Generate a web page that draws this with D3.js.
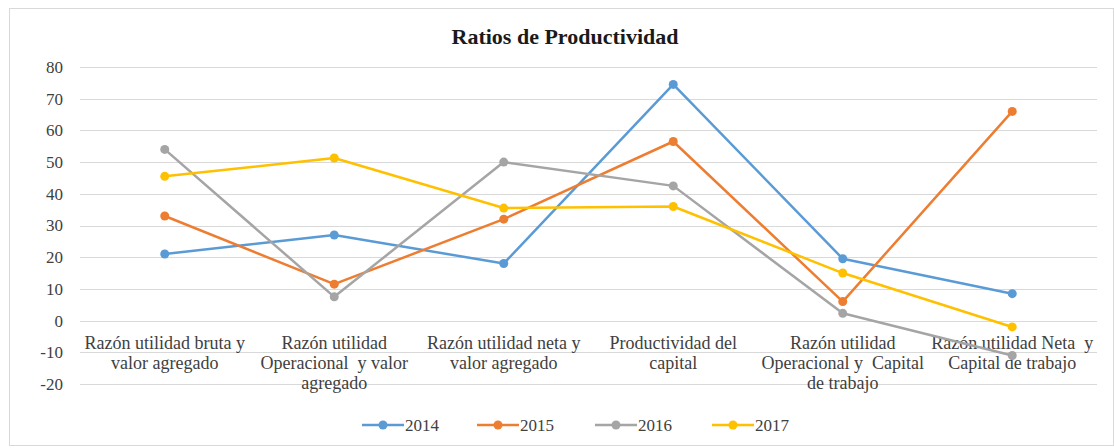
<!DOCTYPE html>
<html>
<head>
<meta charset="utf-8">
<script src="https://cdn.jsdelivr.net/npm/d3@7"></script>
<style>
  body { margin: 0; background: #fff; }
  text { font-family: "Liberation Serif", "Times New Roman", serif; }
</style>
</head>
<body>
<script>

var width = 1114,
    height = 448,
    margin = { top: 67, right: 17, bottom: 64, left: 80 };

// data
var categories = [
    ["Razón utilidad bruta y", "valor agregado"],
    ["Razón utilidad", "Operacional  y valor", "agregado"],
    ["Razón utilidad neta y", "valor agregado"],
    ["Productividad del", "capital"],
    ["Razón utilidad", "Operacional y  Capital", "de trabajo"],
    ["Razón utilidad Neta  y", "Capital de trabajo"]
];
var years = ["2014", "2015", "2016", "2017"];
var v2014 = [21, 27, 18, 74.5, 19.5, 8.5];
var v2015 = [33, 11.5, 32, 56.5, 6, 66];
var v2016 = [54, 7.5, 50, 42.5, 2.3, -11];
var v2017 = [45.5, 51.3, 35.5, 36, 15, -2];
var yTicks = [-20, -10, 0, 10, 20, 30, 40, 50, 60, 70, 80];
var colors = ["#5b9bd5", "#ed7d31", "#a5a5a5", "#ffc000"];

var series = [v2014, v2015, v2016, v2017];

var svg = d3.select("body").append("svg")
    .attr("width", width)
    .attr("height", height);

// chart frame
svg.append("rect")
    .attr("x", 9.5).attr("y", 8.5)
    .attr("width", width - 10).attr("height", height - 11)
    .attr("fill", "#fff")
    .attr("stroke", "#d9d9d9");

var innerW = width - margin.left - margin.right,
    innerH = height - margin.top - margin.bottom;

var x = d3.scaleBand()
    .domain(d3.range(categories.length))
    .range([0, innerW]);

var y = d3.scaleLinear()
    .domain([-20, 80])
    .range([innerH, 0]);

var g = svg.append("g")
    .attr("transform", "translate(" + margin.left + "," + margin.top + ")");

// gridlines
g.append("g")
    .selectAll("line")
    .data(yTicks)
    .enter().append("line")
        .attr("x1", 0).attr("x2", innerW)
        .attr("y1", function(d) { return Math.round(y(d)) + 0.5; })
        .attr("y2", function(d) { return Math.round(y(d)) + 0.5; })
        .attr("stroke", "#d9d9d9")
        .attr("stroke-width", 1);

// y axis labels (plain hyphen for negatives, like the original)
var yAxis = g.append("g")
    .call(d3.axisLeft(y).tickValues(yTicks).tickSize(0).tickPadding(17).tickFormat(function(d) { return String(d); }));
yAxis.select(".domain").remove();
yAxis.selectAll("text")
    .attr("font-family", "Liberation Serif, serif")
    .attr("font-size", 17)
    .attr("fill", "#404040");

// category labels, hung below the zero line
var cat = g.append("g")
    .selectAll("text")
    .data(categories)
    .enter().append("text")
        .attr("x", function(d, i) { return x(i) + x.bandwidth() / 2; })
        .attr("y", y(0) + 28)
        .attr("text-anchor", "middle")
        .attr("font-size", 18)
        .attr("fill", "#404040");
cat.selectAll("tspan")
    .data(function(d) { return d; })
    .enter().append("tspan")
        .attr("x", function() { return d3.select(this.parentNode).attr("x"); })
        .attr("dy", function(d, i) { return i ? 20 : 0; })
        .attr("xml:space", "preserve")
        .style("white-space", "pre")
        .text(function(d) { return d; });

var line = d3.line()
    .x(function(d, i) { return x(i) + x.bandwidth() / 2; })
    .y(function(d) { return y(d); });

var s = g.selectAll(".series")
    .data(series)
    .enter().append("g")
        .attr("class", "series");

s.append("path")
    .attr("d", line)
    .attr("fill", "none")
    .attr("stroke", function(d, i) { return colors[i]; })
    .attr("stroke-width", 2.5)
    .attr("stroke-linejoin", "round");

s.each(function(d, k) {
    d3.select(this).selectAll("circle")
        .data(d)
        .enter().append("circle")
            .attr("cx", function(v, i) { return x(i) + x.bandwidth() / 2; })
            .attr("cy", function(v) { return y(v); })
            .attr("r", 4.5)
            .attr("fill", colors[k]);
});

// title
svg.append("text")
    .attr("x", 565)
    .attr("y", 44)
    .attr("text-anchor", "middle")
    .attr("font-size", 22)
    .attr("font-weight", "bold")
    .attr("fill", "#1a1a1a")
    .text("Ratios de Productividad");

// legend
var legendX = [362, 477, 595, 712];
var lg = svg.append("g").selectAll("g")
    .data(years)
    .enter().append("g")
        .attr("transform", function(d, i) { return "translate(" + legendX[i] + ",425)"; });

lg.append("line")
    .attr("x1", 0).attr("x2", 42)
    .attr("stroke", function(d, i) { return colors[i]; })
    .attr("stroke-width", 2.5);
lg.append("circle")
    .attr("cx", 21).attr("r", 4.5)
    .attr("fill", function(d, i) { return colors[i]; });
lg.append("text")
    .attr("x", 43)
    .attr("dy", "0.35em")
    .attr("font-size", 17)
    .attr("fill", "#404040")
    .text(function(d) { return d; });

</script>
</body>
</html>
